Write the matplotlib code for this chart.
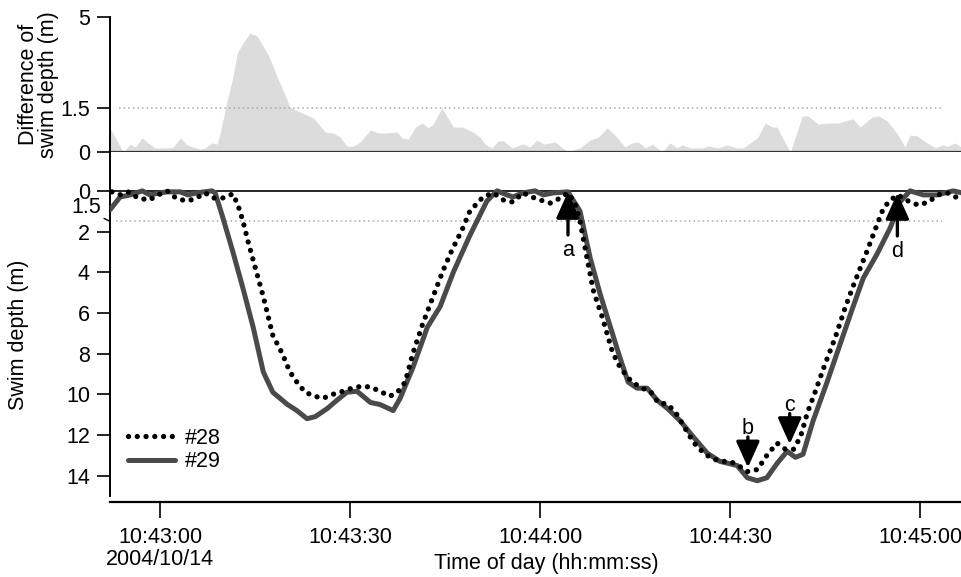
import numpy as np
import matplotlib
matplotlib.use('Agg')
import matplotlib.pyplot as plt

plt.rcParams['font.family'] = ['Liberation Sans', 'DejaVu Sans']
FS = 15.5

# ---------------- data (time in s after 10:43:00, depth in m) ----------------
t29 = [-7.9, -6.3, -4.7, -2.8, -1.6, 0.0, 1.1, 3.2, 4.4, 5.8,
       8.2, 8.7, 9.9, 11.5, 13.1, 14.7, 16.3, 17.8, 20.1, 21.6,
       23.2, 24.5, 26.4, 27.9, 29.5, 31.1, 33.2, 34.7, 36.8, 37.9,
       39.9, 42.2, 44.2, 46.3, 48.9, 51.6, 53.2, 54.8, 55.7, 57.3,
       59.2, 60.5, 62.1, 64.4, 66.3, 67.9, 69.5, 71.1, 72.6, 73.9,
       75.3, 76.9, 78.5, 80.1, 82.1, 84.2, 86.4, 88.4, 91.1, 92.7,
       94.3, 95.8, 97.4, 99.0, 100.3, 101.5, 103.1, 105.3, 107.4, 109.4,
       111.0, 113.2, 115.3, 116.8, 118.4, 120.5, 122.7, 125.2, 126.6]
d29 = [0.93, 0.3, 0.2, 0.0, 0.2, 0.1, 0.05, 0.05, 0.2, 0.1,
       0.0, 0.1, 1.3, 3.0, 4.8, 6.7, 8.9, 9.9, 10.5, 10.8,
       11.2, 11.1, 10.7, 10.3, 9.9, 9.85, 10.4, 10.5, 10.8, 10.2,
       8.7, 6.7, 5.7, 4.0, 2.2, 0.5, 0.0, 0.2, 0.3, 0.1,
       0.0, 0.2, 0.1, 0.05, 1.0, 3.3, 5.1, 6.7, 8.2, 9.4,
       9.7, 9.7, 10.3, 10.7, 11.3, 12.1, 12.9, 13.3, 13.5, 14.1,
       14.25, 14.1, 13.4, 12.8, 13.1, 12.95, 11.3, 9.4, 7.5, 5.7,
       4.3, 3.1, 1.8, 0.55, 0.0, 0.2, 0.2, 0.0, 0.1]

t28 = [-7.6, -6.2, -4.9, -3.5, -1.7, -0.3, 1.1, 2.5, 4.1, 5.5,
       7.1, 8.4, 9.9, 11.5, 12.3, 13.1, 13.9, 14.7, 16.3, 17.8,
       19.3, 20.5, 21.6, 22.9, 24.5, 25.7, 27.3, 28.9, 30.3, 31.9,
       33.3, 34.7, 36.3, 37.6, 38.7, 39.9, 41.4, 43.1, 44.7, 46.1,
       47.7, 48.9, 50.1, 51.0, 52.6, 54.2, 55.7, 57.3, 58.7, 60.0,
       61.6, 63.2, 64.4, 65.5, 66.3, 67.4, 68.4, 69.8, 71.4, 72.3,
       73.4, 74.5, 76.1, 77.4, 78.6, 80.2, 81.6, 83.7, 84.8, 86.8,
       88.4, 90.0, 91.3, 92.7, 94.3, 95.8, 97.4, 98.7, 100.0, 101.1,
       102.2, 103.4, 105.0, 106.6, 108.2, 109.7, 111.5, 113.2, 114.2, 115.3,
       116.5, 118.1, 119.7, 121.3, 122.8, 124.3, 125.5, 126.6]
d28 = [0.05, 0.2, 0.05, 0.35, 0.45, 0.2, 0.0, 0.35, 0.5, 0.4,
       0.1, 0.35, 0.35, 0.15, 0.7, 1.5, 2.5, 3.4, 5.2, 7.1,
       8.0, 8.9, 9.4, 9.9, 10.1, 10.2, 10.0, 9.85, 9.7, 9.6,
       9.65, 9.85, 10.1, 9.85, 9.4, 8.0, 6.6, 5.2, 3.9, 2.9,
       1.9, 1.0, 0.6, 0.3, 0.1, 0.45, 0.55, 0.1, 0.3, 0.45,
       0.6, 0.35, 0.1, 0.6, 1.5, 3.3, 4.9, 6.2, 7.9, 8.5,
       9.0, 9.4, 9.7, 9.85, 10.4, 10.5, 11.0, 12.1, 12.6, 13.1,
       13.3, 13.3, 13.5, 13.8, 13.7, 13.0, 12.4, 12.7, 12.7, 12.1,
       10.9, 9.9, 8.5, 7.2, 5.7, 4.45, 3.05, 1.65, 0.85, 0.45,
       0.2, 0.5, 0.7, 0.55, 0.2, 0.1, 0.3, 0.3]

t_diff = [-7.9, -6.6, -5.8, -4.7, -3.9, -2.8, -1.9, -0.8, 1.1, 2.1,
          3.2, 4.3, 5.2, 6.3, 7.1, 8.2, 9.0, 9.5, 10.6, 11.4,
          12.2, 13.1, 14.2, 15.3, 17.1, 18.5, 19.4, 20.5, 22.1, 24.2,
          26.1, 27.3, 28.4, 29.5, 30.5, 31.6, 33.2, 34.4, 35.8, 37.4,
          38.2, 39.2, 40.3, 41.4, 42.3, 43.1, 44.5, 46.3, 47.7, 49.4,
          50.5, 51.3, 52.4, 53.4, 54.2, 55.6, 57.3, 58.4, 59.5, 60.5,
          62.4, 63.5, 64.4, 66.3, 67.9, 69.2, 70.6, 71.8, 73.4, 74.5,
          75.5, 76.6, 77.7, 79.3, 80.5, 81.6, 82.4, 83.7, 85.6, 86.5,
          88.1, 89.5, 91.1, 92.1, 93.2, 94.4, 95.5, 96.6, 97.4, 98.7,
          99.5, 101.4, 102.3, 103.9, 105.5, 107.1, 109.4, 110.5, 112.4, 113.4,
          114.8, 116.5, 117.6, 118.4, 119.5, 121.1, 122.4, 123.5, 124.4, 125.5,
          126.6]
diff = [0.82, 0.31, 0.0, 0.27, 0.17, 0.48, 0.31, 0.14, 0.14, 0.17,
        0.48, 0.24, 0.17, 0.10, 0.14, 0.31, 0.27, 0.65, 1.81, 2.58,
        3.62, 4.0, 4.38, 4.27, 3.54, 2.69, 2.19, 1.54, 1.36, 1.16,
        0.68, 0.65, 0.51, 0.2, 0.2, 0.34, 0.75, 0.65, 0.65, 0.68,
        0.48, 0.44, 0.85, 0.99, 0.82, 0.95, 1.5, 0.85, 0.85, 0.68,
        0.51, 0.27, 0.14, 0.38, 0.38, 0.14, 0.27, 0.17, 0.41, 0.27,
        0.34, 0.14, 0.0, 0.14, 0.41, 0.51, 0.82, 0.58, 0.17, 0.31,
        0.34, 0.14, 0.27, 0.0, 0.31, 0.14, 0.24, 0.14, 0.14, 0.2,
        0.14, 0.24, 0.14, 0.14, 0.31, 0.51, 0.99, 0.85, 0.85, 0.31,
        0.0, 1.23, 1.23, 0.95, 0.99, 0.99, 1.13, 0.85, 1.19, 1.23,
        1.06, 0.58, 0.17, 0.58, 0.55, 0.31, 0.14, 0.24, 0.2, 0.31,
        0.14]

xtick_t = [0, 30, 60, 90, 120]
xtick_labels = ['10:43:00\n2004/10/14', '10:43:30', '10:44:00', '10:44:30', '10:45:00']
depth_ticks = [0, 2, 4, 6, 8, 10, 12, 14]
diff_ticks = [0, 1.5, 5]
threshold = 1.5

event_labels = ['a', 'b', 'c', 'd']
event_t = [64.4, 92.8, 99.4, 116.4]
event_d = [0.05, 13.6, 12.45, 0.1]

# ---------------- figure ----------------
W, H = 962, 577
fig = plt.figure(figsize=(W / 100, H / 100), dpi=100)


def rect(l, t, r, b):
    return [l / W, 1 - b / H, (r - l) / W, (b - t) / H]


ax_top = fig.add_axes(rect(110, 17, 962, 152))
ax = fig.add_axes(rect(110, 152, 962, 496))

XL = (-7.9, 126.6)

# ---- top panel ----
def fwd(v):
    return np.interp(v, [0, 1.5, 5], [0, 44, 135])


def inv(p):
    return np.interp(p, [0, 44, 135], [0, 1.5, 5])


ax_top.set_yscale('function', functions=(fwd, inv))
ax_top.fill_between(t_diff, 0, diff, color='#dcdcdc', lw=0)
ax_top.hlines(threshold, -6.5, 123.5, colors='#a8a8a8', linestyles=(0, (1, 2)), lw=1.1)
ax_top.set_xlim(*XL)
ax_top.set_ylim(0, 5)
for s in ['top', 'right']:
    ax_top.spines[s].set_visible(False)
ax_top.spines['left'].set_linewidth(1.4)
ax_top.spines['bottom'].set_linewidth(1.6)
ax_top.spines['bottom'].set_color('#333333')
ax_top.set_xticks([])
ax_top.set_yticks(diff_ticks)
ax_top.set_yticklabels(['0', '1.5', '5'])
ax_top.tick_params(axis='y', length=9.4, width=1.2, pad=5, labelsize=FS)
ax_top.set_ylabel('Difference of\nswim depth (m)', fontsize=FS, linespacing=0.95)
ax_top.yaxis.set_label_coords(-0.06, 0.5)

# ---- bottom panel ----
ax.axhline(0, color='black', lw=1.2, zorder=2)
ax.hlines(threshold, -7.0, 123.5, colors='#a8a8a8', linestyles=(0, (1, 2)), lw=1.1, zorder=1)
l29, = ax.plot(t29, d29, color='#4a4a4a', lw=3.6, solid_joinstyle='round',
               solid_capstyle='round', label='#29', zorder=3)
l28, = ax.plot(t28, d28, color='black', lw=3.8, linestyle=(0, (0.01, 1.65)),
               dash_capstyle='round', label='#28', zorder=4)
ax.set_xlim(*XL)
ax.set_ylim(15.0, -1.91)
for s in ['top', 'right']:
    ax.spines[s].set_visible(False)
ax.spines['left'].set_linewidth(1.4)
ax.spines['bottom'].set_linewidth(1.6)
ax.spines['bottom'].set_position(('outward', 4))
ax.set_yticks(depth_ticks)
ax.set_yticklabels([str(v) for v in depth_ticks])
ax.tick_params(axis='y', length=9.4, width=1.2, pad=5, labelsize=FS)
ax.set_xticks(xtick_t)
ax.set_xticklabels(xtick_labels, linespacing=1.05)
ax.tick_params(axis='x', length=11.5, width=1.2, pad=7, labelsize=FS)
ax.set_ylabel('Swim depth (m)', fontsize=FS)
ax.yaxis.set_label_coords(-0.095, 0.47)

# threshold label with slanted leader
ax.annotate('1.5', xy=(0, threshold), xycoords=('axes fraction', 'data'),
            xytext=(-17, 10), textcoords='offset points', ha='center', va='center',
            fontsize=FS, annotation_clip=False,
            arrowprops=dict(arrowstyle='-', lw=1.0, color='black', shrinkA=0, shrinkB=0,
                            relpos=(0.85, 0.15)))

# event arrows
for lab, et, ed in zip(event_labels, event_t, event_d):
    up = ed < 5
    tail = -31 if up else 22
    loff = -42 if up else 28
    ax.annotate('', xy=(et, ed), xytext=(0, tail), textcoords='offset points',
                arrowprops=dict(arrowstyle='-|>,head_length=0.8,head_width=0.36',
                                mutation_scale=20, lw=2.4, color='black',
                                shrinkA=0, shrinkB=0), zorder=6)
    ax.annotate(lab, xy=(et, ed), xytext=(0, loff), textcoords='offset points',
                ha='center', va='center', fontsize=FS, zorder=6)

ax.legend(handles=[l28, l29], loc='upper left',
          bbox_to_anchor=((128 - 110) / 852, (496 - 428) / 344),
          frameon=False, fontsize=FS, handlelength=2.2, handletextpad=0.45,
          labelspacing=0.1, borderaxespad=0, borderpad=0)

fig.text(546 / W, 1 - 563 / H, 'Time of day (hh:mm:ss)', ha='center', va='center', fontsize=FS)

fig.savefig('out.png', dpi=100)
